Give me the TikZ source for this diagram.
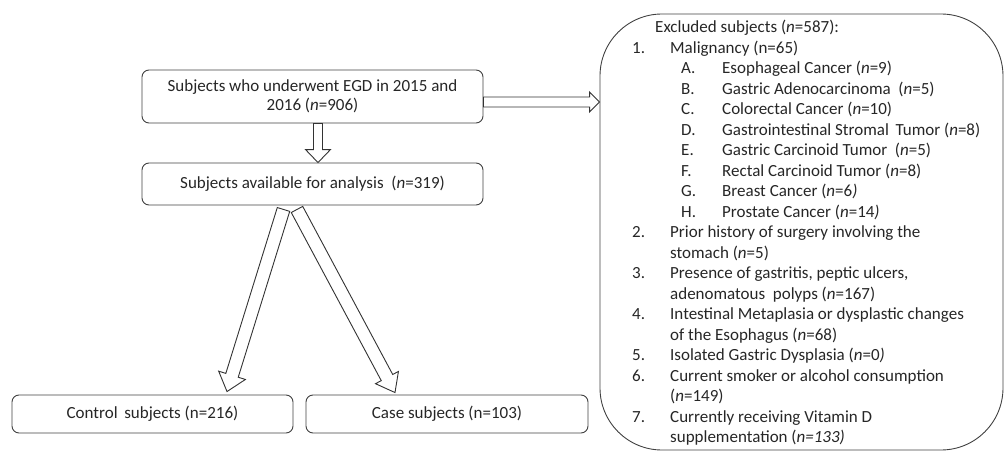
\documentclass[tikz,border=0pt]{standalone}
\usepackage{fontspec}
\setmainfont{Carlito}
\usetikzlibrary{calc}

% hollow block arrow: from, to, shaft half width, head half width, head length
\newcommand{\fatarrow}[5]{%
 \coordinate (hb) at ($(#2)!#5!(#1)$);
 \draw[fat] ($(#1)!#3!90:(#2)$) -- ($(hb)!#3!90:(#2)$) -- ($(hb)!#4!90:(#2)$) -- (#2)
   -- ($(hb)!#4!-90:(#2)$) -- ($(hb)!#3!-90:(#2)$) -- ($(#1)!#3!-90:(#2)$) -- cycle;}

\begin{document}
\begin{tikzpicture}[x=1pt,y=-1pt,font=\fontsize{17pt}{20.5pt}\selectfont]
 \useasboundingbox (0,0) rectangle (1005,452);
 \tikzstyle{box} = [draw=black!75,line width=0.9pt,rounded corners=7pt,inner sep=0pt,text=black!85]
 \tikzstyle{fat} = [draw=black!80,line width=0.9pt,fill=white,line join=miter]
 \node[box,minimum width=341pt,minimum height=53pt,align=center,font=\fontsize{17pt}{19.5pt}\selectfont] (egd) at (312.5,96.5)
   {Subjects who underwent EGD in 2015 and\\2016 (\textit{n}=906)};
 \node[box,minimum width=341pt,minimum height=42pt] (avail) at (312.5,184)
   {Subjects available for analysis \ (\textit{n}=319)};
 \node[box,minimum width=281pt,minimum height=38pt] (control) at (152.5,414)
   {Control \,subjects (n=216)};
 \node[box,minimum width=282pt,minimum height=38pt] (case) at (447,414)
   {Case subjects (n=103)};
 \node[box,rounded corners=62pt,minimum width=403pt,minimum height=436pt] (excl) at (801.5,232) {};
 \node[text=black!85,inner sep=0pt,anchor=north west,align=left] (excltext) at (632,20)
   {\hspace*{23pt}Excluded subjects (\textit{n}=587):\\
    \makebox[38pt][l]{1.}Malignancy (n=65)\\
    \hspace*{49pt}\makebox[41pt][l]{A.}Esophageal Cancer (\textit{n}=9)\\
    \hspace*{49pt}\makebox[41pt][l]{B.}Gastric Adenocarcinoma \ (\textit{n}=5)\\
    \hspace*{49pt}\makebox[41pt][l]{C.}Colorectal Cancer (\textit{n}=10)\\
    \hspace*{49pt}\makebox[41pt][l]{D.}Gastrointestinal Stromal \,Tumor (\textit{n}=8)\\
    \hspace*{49pt}\makebox[41pt][l]{E.}Gastric Carcinoid Tumor \ (\textit{n}=5)\\
    \hspace*{49pt}\makebox[41pt][l]{F.}Rectal Carcinoid Tumor (\textit{n}=8)\\
    \hspace*{49pt}\makebox[41pt][l]{G.}Breast Cancer (\textit{n}=6\textit{)}\\
    \hspace*{49pt}\makebox[41pt][l]{H.}Prostate Cancer (\textit{n}=14\textit{)}\\
    \makebox[38pt][l]{2.}Prior history of surgery involving the\\
    \hspace*{38pt}stomach (\textit{n}=5)\\
    \makebox[38pt][l]{3.}Presence of gastritis, peptic ulcers,\\
    \hspace*{38pt}adenomatous \ polyps (\textit{n}=167)\\
    \makebox[38pt][l]{4.}Intestinal Metaplasia or dysplastic changes\\
    \hspace*{38pt}of the Esophagus (\textit{n}=68)\\
    \makebox[38pt][l]{5.}Isolated Gastric Dysplasia (\textit{n}=0\textit{)}\\
    \makebox[38pt][l]{6.}Current smoker or alcohol consumption\\
    \hspace*{38pt}(\textit{n}=149)\\
    \makebox[38pt][l]{7.}Currently receiving Vitamin D\\
    \hspace*{38pt}supplementation (\textit{n=133)}};
 % arrows
 \coordinate (d1) at ([xshift=5.5pt]egd.south);
 \coordinate (d2) at ([xshift=5.5pt]avail.north);
 \fatarrow{d1}{d2}{4.5pt}{12.5pt}{13pt}
 \coordinate (r1) at ([yshift=-5.5pt]egd.east);
 \coordinate (r2) at (r1 -| excl.west);
 \fatarrow{r1}{r2}{5pt}{10pt}{10pt}
 \coordinate (l1) at ([xshift=-29pt,yshift=-4pt]avail.south);
 \coordinate (l2) at ([xshift=74.5pt,yshift=3pt]control.north);
 \fatarrow{l1}{l2}{6.5pt}{14pt}{17pt}
 \coordinate (c1) at ([xshift=-15.5pt,yshift=-4pt]avail.south);
 \coordinate (c2) at ([xshift=-52pt,yshift=2pt]case.north);
 \fatarrow{c1}{c2}{6.5pt}{13pt}{17pt}
\end{tikzpicture}
\end{document}
